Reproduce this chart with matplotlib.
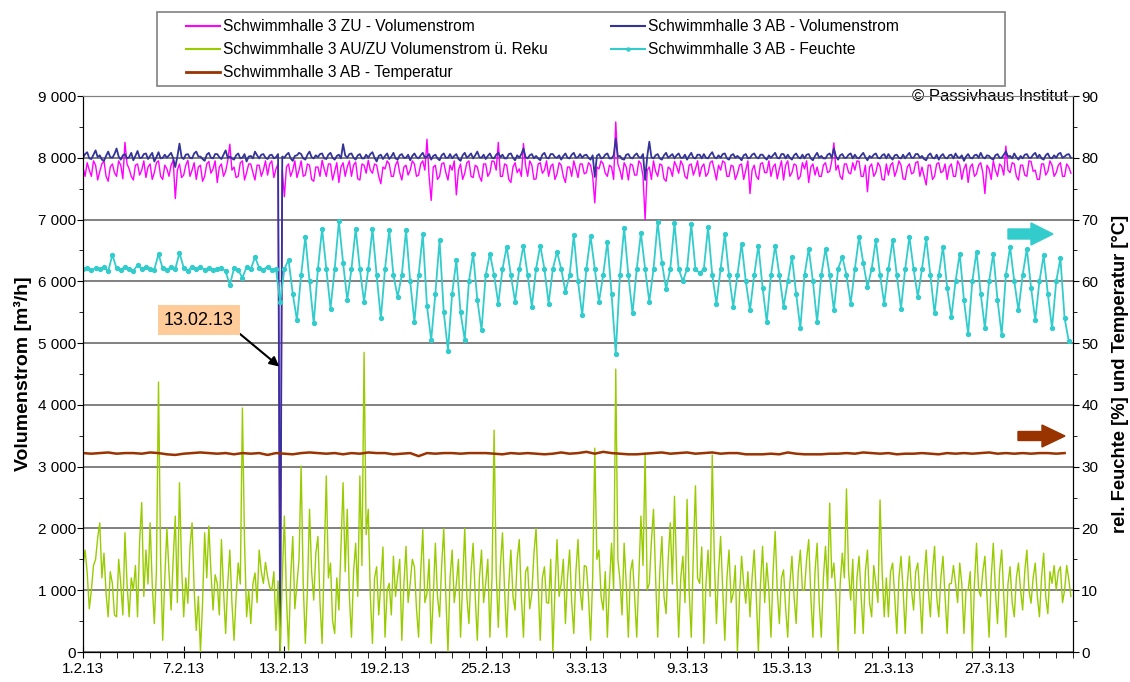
import numpy as np
import matplotlib
matplotlib.use("Agg")
import matplotlib.pyplot as plt
from matplotlib.ticker import MultipleLocator, FuncFormatter
from matplotlib.patches import FancyArrow, Rectangle
from matplotlib.lines import Line2D

plt.rcParams["font.family"] = ["Liberation Sans", "DejaVu Sans"]

# volume flows: samples every 3 hours starting 1.2.13 00:00 (one row per day)
zu_volumenstrom = [
    7850, 7700, 7920, 7800, 7700, 7950, 7880, 7640,
    7780, 7900, 7950, 7700, 7620, 7850, 7900, 7760,
    7700, 7950, 7880, 7660, 8250, 7900, 7820, 7700,
    7640, 7880, 7900, 7720, 7800, 7950, 7680, 7850,
    7900, 7650, 7760, 7920, 7950, 7700, 7650, 7880,
    7820, 7700, 7880, 7960, 7340, 7800, 7900, 7680,
    7720, 7880, 7960, 7700, 7800, 7920, 7650, 7850,
    7880, 7620, 7700, 7900, 7940, 7750, 7820, 7950,
    7600, 7850, 7900, 7700, 7780, 7950, 8220, 7800,
    7850, 7680, 7700, 7920, 7950, 7640, 7760, 7900,
    7900, 7760, 7640, 7880, 7880, 7700, 7800, 7950,
    7720, 7900, 7950, 7680, 7820, 7900, 0, 7800,
    7370, 7850, 7900, 7700, 7800, 7950, 7680, 7800,
    7950, 7700, 7720, 7900, 7880, 7650, 7620, 7850,
    7850, 7700, 7960, 7820, 7700, 7900, 7900, 7640,
    7780, 7920, 7600, 7850, 7920, 7700, 7850, 7950,
    7700, 7880, 7930, 7660, 7640, 7900, 7880, 7750,
    7960, 7800, 7750, 7900, 7880, 7700, 7580, 7850,
    7820, 7950, 7900, 7700, 7700, 7880, 7950, 7760,
    7640, 7850, 7880, 7720, 7800, 7950, 7900, 7700,
    7720, 7900, 7950, 7800, 8300, 7700, 7310, 7850,
    7880, 7650, 7700, 7900, 7920, 7760, 7640, 7880,
    7800, 7950, 7400, 7800, 7900, 7650, 7750, 7920,
    7950, 7700, 7680, 7880, 7850, 7700, 7620, 7900,
    7900, 7700, 7760, 7950, 7940, 7800, 8250, 7700,
    7700, 7900, 7880, 7650, 7600, 7850, 7920, 7760,
    7820, 7700, 8230, 7880, 7700, 7950, 7880, 7650,
    7660, 7900, 7920, 7750, 7800, 7950, 7700, 7860,
    7900, 7650, 7740, 7920, 7880, 7700, 7600, 7850,
    7850, 7700, 7950, 7820, 7680, 7900, 7900, 7740,
    7760, 7920, 7880, 7700, 7270, 7850, 7820, 7950,
    7900, 7750, 7700, 7880, 7850, 7650, 8580, 7900,
    7800, 7650, 7920, 7850, 7640, 7900, 7880, 7720,
    7720, 7950, 7900, 7700, 7000, 7800, 7850, 7650,
    7950, 7780, 7700, 7900, 7880, 7660, 7620, 7850,
    7820, 7700, 7940, 7860, 7750, 7950, 7880, 7700,
    7660, 7880, 7900, 7720, 7820, 7950, 7700, 7850,
    7900, 7700, 7750, 7920, 7950, 7800, 7640, 7880,
    7800, 7950, 7920, 7700, 7700, 7880, 7860, 7650,
    7740, 7880, 7900, 7650, 7800, 7950, 7420, 7800,
    7880, 7700, 7650, 7900, 7920, 7760, 7760, 7950,
    7700, 7850, 7900, 7660, 7820, 7950, 7640, 7880,
    7950, 7700, 7760, 7900, 7880, 7650, 7700, 7920,
    7820, 7950, 7600, 7850, 7900, 7720, 7850, 7700,
    7700, 7880, 7920, 7760, 7780, 7950, 8240, 7800,
    7880, 7700, 7650, 7900, 7900, 7760, 7740, 7920,
    7800, 7950, 7940, 7700, 7700, 7880, 7450, 7850,
    7900, 7700, 7760, 7920, 7860, 7650, 7640, 7900,
    7720, 7880, 7920, 7700, 7800, 7950, 7880, 7660,
    7650, 7850, 7900, 7740, 7760, 7920, 7940, 7700,
    7850, 7700, 7560, 7880, 7880, 7650, 7700, 7900,
    7920, 7760, 7780, 7900, 7650, 7850, 7900, 7700,
    7700, 7950, 7880, 7650, 7820, 7900, 7600, 7850,
    7900, 7700, 7740, 7880, 7920, 7760, 7420, 7880,
    7820, 7650, 7950, 7800, 7700, 7900, 7860, 7720,
    8190, 7800, 7760, 7920, 7900, 7700, 7640, 7880,
    7880, 7720, 7700, 7950, 7940, 7780, 7800, 7650,
    7650, 7900, 7900, 7720, 7780, 7950, 7880, 7700,
    7760, 7880, 7920, 7700, 7700, 7900, 7850, 7750,
]
ab_volumenstrom = [
    8000, 8060, 8090, 7990, 7980, 8050, 8120, 8010,
    8040, 7970, 7950, 8030, 8100, 8010, 8000, 8060,
    8150, 8020, 7970, 8040, 8060, 7990, 8010, 8080,
    7960, 8030, 8110, 8000, 8000, 8060, 8070, 7980,
    8030, 8080, 7940, 8010, 8090, 7990, 8000, 8050,
    8000, 8040, 8080, 7990, 7850, 8020, 8230, 8010,
    7980, 8050, 8060, 8000, 7990, 8070, 8100, 8020,
    8020, 7980, 7950, 8050, 8080, 8000, 7990, 8060,
    8060, 8010, 7980, 8050, 8120, 8000, 8020, 7990,
    7970, 8040, 8070, 7990, 8000, 8060, 7940, 8020,
    8030, 7990, 8100, 8040, 7990, 8050, 8060, 8000,
    7980, 8040, 8050, 7990, 8010, 8060, 0, 8020,
    8000, 8050, 8080, 7990, 7950, 8030, 8040, 8080,
    8060, 7990, 7970, 8050, 8100, 8010, 7990, 8040,
    8010, 8060, 8070, 7990, 7980, 8050, 8080, 8000,
    7970, 8030, 8050, 7990, 8220, 8040, 8000, 8060,
    8070, 8000, 7970, 8040, 8060, 7990, 7990, 8050,
    8000, 8060, 8090, 8000, 7940, 8030, 8050, 7980,
    8030, 8070, 7980, 8020, 8080, 7990, 7970, 8040,
    8060, 8000, 8000, 8050, 7960, 8030, 8070, 8010,
    7990, 8040, 8080, 8000, 8020, 8060, 7970, 8030,
    8050, 7990, 7960, 8040, 8070, 8000, 8000, 8060,
    7990, 8030, 8060, 7980, 7950, 8040, 8080, 8000,
    8030, 8070, 7990, 8040, 8100, 8010, 8000, 8050,
    7980, 8030, 8070, 8000, 7990, 8050, 8080, 8010,
    8050, 7990, 7990, 8060, 8070, 8000, 7960, 8040,
    8000, 8060, 8150, 8010, 7990, 8040, 8060, 7990,
    8030, 7990, 7960, 8050, 8080, 8000, 7990, 8060,
    8060, 8010, 8000, 8040, 7970, 8030, 8070, 8000,
    7990, 8050, 8080, 8000, 8010, 8060, 8000, 8040,
    8050, 8000, 7970, 8040, 7690, 8030, 8060, 7990,
    8000, 8050, 8070, 7990, 7990, 8040, 8310, 8020,
    8030, 7980, 7970, 8050, 8060, 8000, 7990, 8040,
    8070, 8010, 8000, 8060, 7640, 8020, 8260, 8010,
    7990, 8040, 8060, 7990, 7970, 8040, 8080, 8000,
    8030, 8060, 7990, 8040, 8070, 8000, 8000, 8050,
    7970, 8030, 8080, 8000, 7990, 8050, 8050, 7990,
    8060, 8000, 7990, 8050, 8090, 8010, 7990, 8040,
    8000, 8060, 8070, 7990, 7970, 8040, 8060, 8000,
    8030, 8000, 7960, 8040, 8060, 7990, 8000, 8050,
    8070, 8010, 7990, 8050, 8050, 8000, 7970, 8040,
    8000, 8040, 8080, 8000, 7990, 8060, 8060, 7990,
    8050, 8000, 7970, 8040, 8070, 8010, 7990, 8050,
    7990, 8050, 8060, 7990, 7960, 8030, 8080, 8000,
    8030, 7990, 7990, 8050, 8070, 8000, 8150, 8020,
    7970, 8040, 8060, 8000, 8000, 8050, 8070, 7990,
    8050, 8000, 7990, 8040, 8080, 8010, 7960, 8030,
    8000, 8050, 8070, 8000, 7990, 8040, 8060, 7990,
    8060, 8010, 7970, 8040, 8050, 8000, 7990, 8050,
    7990, 8040, 8080, 8000, 8000, 8060, 8060, 8000,
    8030, 7980, 7960, 8040, 8070, 8000, 7990, 8050,
    7970, 8030, 8060, 8000, 7990, 8040, 8050, 7990,
    8070, 8010, 8000, 8040, 7950, 8020, 8060, 8000,
    7990, 8040, 8050, 8000, 8080, 8010, 7990, 8040,
    8030, 7990, 7970, 8040, 8060, 8000, 8000, 8050,
    8100, 8020, 8030, 7990, 8070, 8010, 7970, 8030,
    7990, 8050, 8060, 8000, 8000, 8050, 8080, 8000,
    8050, 7990, 7970, 8040, 8070, 8000, 7990, 8040,
    8000, 8060, 8080, 8000, 8020, 8050, 8060, 8000,
]
reku_volumenstrom = [
    1390, 1650, 1280, 700, 1000, 1400, 1500, 1850,
    2090, 1200, 1600, 950, 570, 1300, 1110, 600,
    570, 1500, 1110, 600, 1930, 1100, 570, 1200,
    1000, 1400, 570, 1800, 2420, 900, 1650, 1100,
    2090, 1100, 460, 1300, 4370, 1500, 190, 1200,
    2000, 1300, 680, 1500, 2200, 800, 2740, 1400,
    570, 1200, 790, 1700, 2090, 1000, 350, 900,
    0, 800, 1930, 1200, 2040, 1300, 680, 1250,
    1110, 600, 1820, 1000, 300, 1100, 1650, 800,
    190, 900, 1440, 1100, 3950, 1800, 570, 1000,
    460, 1100, 1280, 800, 1650, 1300, 1110, 1450,
    1220, 1050, 1000, 1300, 350, 1150, 0, 1200,
    2200, 900, 30, 1200, 1870, 700, 1110, 1500,
    3010, 1100, 140, 1000, 2310, 1300, 840, 1600,
    1870, 800, 140, 1500, 2850, 1200, 1440, 500,
    300, 1200, 680, 1700, 2740, 1300, 2310, 900,
    240, 1300, 1760, 900, 2850, 1400, 4850, 1900,
    2310, 900, 140, 1200, 1380, 600, 1110, 1700,
    240, 1000, 1110, 600, 1550, 900, 1220, 1500,
    190, 1100, 1710, 800, 1110, 1500, 1380, 700,
    240, 1300, 1980, 800, 950, 1500, 140, 900,
    1760, 900, 570, 1400, 2000, 900, 0, 1200,
    1650, 800, 1110, 1500, 240, 1100, 2000, 900,
    460, 1300, 1760, 900, 190, 1200, 1650, 800,
    1110, 1500, 240, 1200, 3590, 1300, 400, 1400,
    1930, 1000, 240, 1100, 1650, 900, 680, 1500,
    1820, 900, 240, 1300, 1380, 700, 950, 1600,
    2000, 1100, 190, 1200, 1380, 800, 790, 1500,
    0, 1000, 1820, 900, 1110, 1500, 460, 1200,
    1650, 800, 300, 1300, 1820, 1000, 680, 1400,
    1380, 900, 190, 1200, 3300, 1500, 1650, 900,
    680, 1300, 240, 1100, 1760, 1000, 4580, 1500,
    1170, 600, 1760, 1100, 240, 1300, 1490, 900,
    240, 1200, 2200, 1400, 3220, 1000, 1110, 1800,
    2310, 1200, 240, 1300, 1870, 900, 620, 1500,
    2090, 1100, 2520, 1300, 240, 1200, 1550, 800,
    2470, 1000, 240, 1600, 2690, 1200, 1110, 1700,
    140, 1100, 1650, 900, 3190, 1500, 460, 1300,
    1870, 1000, 190, 1200, 1650, 800, 950, 1400,
    0, 900, 1550, 1100, 790, 1300, 570, 1200,
    1650, 900, 0, 1100, 1710, 800, 1440, 1000,
    240, 1300, 1950, 1000, 460, 1200, 1330, 700,
    240, 1100, 1550, 900, 460, 1300, 1650, 1000,
    1000, 1500, 1820, 900, 240, 1300, 1760, 800,
    240, 1200, 1710, 1000, 2410, 1200, 1440, 900,
    0, 1100, 1600, 1200, 2640, 1300, 840, 1500,
    300, 1200, 1550, 900, 300, 1300, 1650, 800,
    570, 1400, 1110, 800, 2460, 1300, 570, 1200,
    570, 1300, 1440, 900, 300, 1200, 1550, 1000,
    300, 1100, 1550, 1000, 680, 1300, 1440, 900,
    300, 1200, 1650, 1000, 570, 1300, 1710, 900,
    570, 1200, 1550, 900, 300, 1100, 1110, 1400,
    1110, 800, 1440, 1100, 300, 1000, 1000, 1300,
    0, 1100, 1760, 1000, 900, 1300, 1550, 900,
    240, 1200, 1760, 1000, 460, 1300, 1650, 900,
    240, 1100, 1380, 800, 570, 1200, 1440, 1000,
    680, 1300, 1650, 1000, 790, 1200, 1440, 900,
    570, 1200, 1600, 900, 620, 1300, 1110, 1400,
    1000, 1300, 1380, 800, 1000, 1400, 1170, 900,
]
# humidity: samples every 6 hours
ab_feuchte = [
    62.0, 62.2, 61.8, 62.1,  62.0, 62.3, 61.6, 64.3,  62.1, 61.8, 62.4, 62.0,
    61.7, 62.6, 62.0, 62.3,  62.0, 61.9, 64.4, 62.1,  61.8, 62.3, 62.0, 64.6,
    62.2, 61.7, 62.4, 62.0,  62.3, 61.9, 62.1, 61.8,  62.0, 62.2, 61.6, 59.4,
    62.1, 61.8, 60.6, 62.3,  62.0, 63.9, 62.2, 61.9,  62.4, 61.8, 62.0, 56.6,
    62.0, 63.5, 58.0, 53.7,  61.0, 67.2, 60.0, 53.2,  62.0, 68.5, 62.0, 55.6,
    62.0, 69.7, 63.0, 57.0,  62.0, 68.5, 62.0, 56.7,  62.0, 68.5, 61.0, 54.0,
    62.0, 68.3, 61.0, 57.5,  61.0, 68.3, 60.0, 53.4,  61.0, 67.7, 56.0, 50.5,
    58.0, 66.7, 55.0, 48.8,  58.0, 63.4, 55.0, 50.5,  60.0, 64.5, 57.0, 52.1,
    61.0, 64.5, 61.0, 56.4,  62.0, 65.6, 61.0, 56.7,  62.0, 65.8, 61.0, 55.9,
    62.0, 65.8, 62.0, 56.4,  62.0, 64.8, 62.0, 58.3,  61.0, 67.5, 60.0, 54.5,
    62.0, 67.3, 62.0, 56.7,  61.0, 66.4, 58.0, 48.3,  61.0, 68.7, 61.0, 54.8,
    62.0, 67.8, 62.0, 56.7,  62.0, 69.6, 63.0, 58.8,  62.0, 69.4, 62.0, 60.0,
    62.0, 69.2, 62.0, 61.3,  62.0, 68.8, 61.0, 56.4,  62.0, 67.7, 61.0, 55.9,
    61.0, 66.1, 60.0, 55.3,  61.0, 65.8, 59.0, 53.4,  61.0, 65.8, 61.0, 55.9,
    60.0, 64.0, 58.0, 52.4,  61.0, 65.3, 60.0, 53.4,  61.0, 65.3, 61.0, 55.3,
    62.0, 64.0, 61.0, 56.4,  62.0, 67.2, 63.0, 59.1,  62.0, 66.7, 61.0, 56.4,
    62.0, 66.7, 61.0, 55.6,  62.0, 67.2, 62.0, 57.5,  62.0, 67.0, 61.0, 54.8,
    61.0, 65.6, 59.0, 54.2,  60.0, 64.5, 57.0, 51.5,  60.0, 64.8, 58.0, 52.4,
    60.0, 64.5, 57.0, 51.3,  61.0, 65.6, 60.0, 55.3,  61.0, 65.3, 59.0, 53.7,
    60.0, 64.2, 58.0, 52.4,  60.0, 63.7, 54.0, 50.3,
]
# temperature: samples every 12 hours
ab_temperatur = [
    32.2, 32.1, 32.2, 32.3, 32.1, 32.2, 32.2, 32.1, 32.3, 32.2,
    32.0, 31.9, 32.1, 32.2, 32.3, 32.2, 32.1, 32.2, 32.0, 32.2,
    32.1, 32.2, 31.9, 32.2, 32.1, 32.0, 32.2, 32.3, 32.2, 32.1,
    32.2, 32.0, 32.2, 32.1, 32.3, 32.2, 32.2, 32.0, 32.1, 32.2,
    31.7, 32.2, 32.1, 32.2, 32.2, 32.1, 32.2, 32.2, 32.2, 32.1,
    32.0, 32.2, 32.1, 32.2, 32.1, 32.0, 32.1, 32.3, 32.1, 32.2,
    32.4, 32.1, 32.4, 32.2, 32.1, 32.0, 32.0, 32.1, 32.2, 32.3,
    32.1, 32.2, 32.3, 32.1, 32.2, 32.3, 32.1, 32.2, 32.2, 32.0,
    32.0, 32.0, 32.1, 32.0, 32.3, 32.1, 32.0, 32.0, 32.0, 32.1,
    32.1, 32.2, 32.1, 32.3, 32.2, 32.1, 32.2, 32.0, 32.1, 32.1,
    32.2, 32.1, 32.0, 32.2, 32.1, 32.2, 32.1, 32.2, 32.3, 32.1,
    32.2, 32.1, 32.2, 32.1, 32.2, 32.2, 32.1, 32.2,
]
date_labels = ["1.2.13", "7.2.13", "13.2.13", "19.2.13", "25.2.13",
               "3.3.13", "9.3.13", "15.3.13", "21.3.13", "27.3.13"]

t3 = np.arange(len(zu_volumenstrom)) / 8.0
t6 = np.arange(len(ab_feuchte)) / 4.0
t12 = np.arange(len(ab_temperatur)) / 2.0

fig = plt.figure(figsize=(11.3, 6.82), dpi=100)
ax = fig.add_axes([83 / 1130, 30 / 682, 990 / 1130, 556 / 682])
ax2 = ax.twinx()

ax.plot(t3, zu_volumenstrom, color="#ff00ff", lw=1.0)
ax.plot(t3, ab_volumenstrom, color="#333399", lw=1.3)
ax.plot(t3, reku_volumenstrom, color="#99cc00", lw=1.0)
ax2.plot(t6, ab_feuchte, color="#33cccc", lw=1.3, marker="o", ms=2.8)
ax2.plot(t12, ab_temperatur, color="#993300", lw=1.8)

ax.set_xlim(0, 59)
ax.set_ylim(0, 9000)
ax2.set_ylim(0, 90)
ax.set_xticks(np.arange(len(date_labels)) * 6, date_labels)
ax.xaxis.set_minor_locator(MultipleLocator(1))
ax.yaxis.set_major_locator(MultipleLocator(1000))
ax.yaxis.set_minor_locator(MultipleLocator(500))
ax.yaxis.set_major_formatter(FuncFormatter(lambda v, p: f"{int(v):,}".replace(",", " ")))
ax2.yaxis.set_major_locator(MultipleLocator(10))
ax2.yaxis.set_minor_locator(MultipleLocator(5))

ax.yaxis.grid(True, color="#808080", lw=1.4)
ax.set_axisbelow(True)
ax.spines["top"].set_color("#808080")
ax2.spines["top"].set_color("#808080")

ax.tick_params(axis="x", which="major", direction="inout", length=8, labelsize=11, pad=3)
ax.tick_params(axis="x", which="minor", direction="out", length=4)
ax.tick_params(axis="y", which="major", direction="out", length=4, labelsize=11, pad=1)
ax.tick_params(axis="y", which="minor", direction="out", length=3)
ax2.tick_params(axis="y", which="major", direction="out", length=4, labelsize=11, pad=2)
ax2.tick_params(axis="y", which="minor", direction="out", length=3)

ax.set_ylabel("Volumenstrom [m³/h]", fontsize=14, fontweight="bold", labelpad=4)
ax2.set_ylabel("rel. Feuchte [%] und Temperatur [°C]", fontsize=13.2, fontweight="bold", labelpad=10)

ax.text(0.995, 1.0, "© Passivhaus Institut", transform=ax.transAxes, ha="right", va="center",
        fontsize=12, bbox=dict(fc="white", ec="none", pad=1), zorder=10)

ax2.annotate("13.02.13", xy=(11.7, 46.2), xytext=(6.9, 53.7), fontsize=13, ha="center", va="center",
             bbox=dict(boxstyle="square,pad=0.35", fc="#ffcc99", ec="none"),
             arrowprops=dict(arrowstyle="-|>", color="black", lw=1.5, relpos=(1.0, 0.0),
                             shrinkA=0, shrinkB=0, mutation_scale=14))

# direction arrows (which axis a series belongs to)
fig.add_artist(FancyArrow(10.08, (682 - 234) / 100, 0.45, 0, width=0.10, head_width=0.22,
                          head_length=0.22, length_includes_head=True, color="#33cccc",
                          transform=fig.dpi_scale_trans))
fig.add_artist(FancyArrow(10.18, (682 - 436) / 100, 0.47, 0, width=0.09, head_width=0.22,
                          head_length=0.23, length_includes_head=True, color="#993300",
                          transform=fig.dpi_scale_trans))

handles = [
    Line2D([], [], color="#ff00ff", lw=1.5),
    Line2D([], [], color="#99cc00", lw=1.5),
    Line2D([], [], color="#993300", lw=2),
    Line2D([], [], color="#333399", lw=1.5),
    Line2D([], [], color="#33cccc", lw=1.5, marker="o", ms=2.2),
]
labels = [
    "Schwimmhalle 3 ZU - Volumenstrom",
    "Schwimmhalle 3 AU/ZU Volumenstrom ü. Reku",
    "Schwimmhalle 3 AB - Temperatur",
    "Schwimmhalle 3 AB - Volumenstrom",
    "Schwimmhalle 3 AB - Feuchte",
]
fig.legend(handles, labels, loc="upper left", bbox_to_anchor=(186 / 1130, 1 - 19 / 682), ncol=2,
           frameon=False, fontsize=11.2, handlelength=2.2, handletextpad=0.15, columnspacing=4.1,
           labelspacing=0.52, borderpad=0, borderaxespad=0)
fig.add_artist(Rectangle((157 / 1130, 1 - 86 / 682), 848 / 1130, 74 / 682, fill=False,
                         edgecolor="#808080", lw=1.2, transform=fig.transFigure))

fig.savefig("out.png", dpi=100)
